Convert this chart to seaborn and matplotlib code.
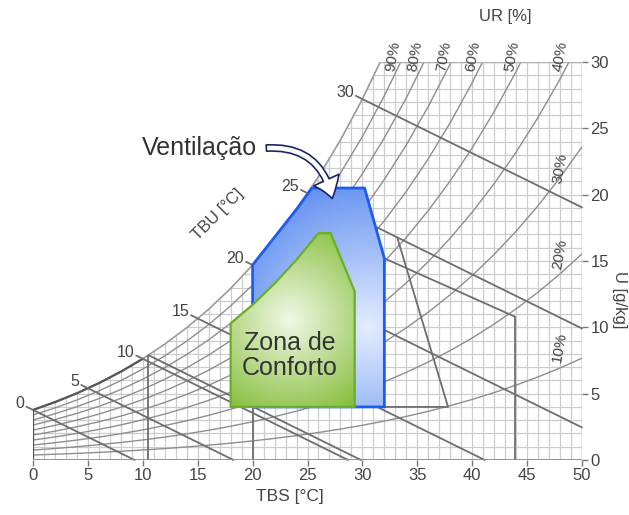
import numpy as np
import pandas as pd
import matplotlib.pyplot as plt
import seaborn as sns
from matplotlib.patches import Polygon, FancyArrowPatch
from matplotlib.colors import LinearSegmentedColormap

# saturation pressure table (kPa) per 2 °C of dry bulb
tbs = np.arange(0, 52, 2)
p_sat = np.array([0.611, 0.706, 0.813, 0.935, 1.073, 1.228, 1.403, 1.599, 1.818, 2.064,
                  2.339, 2.645, 2.985, 3.363, 3.782, 4.246, 4.759, 5.324, 5.947, 6.632,
                  7.384, 8.209, 9.112, 10.099, 11.177, 12.352])
p_atm = 101.325

ur_levels = [0.1, 0.2, 0.3, 0.4, 0.5, 0.6, 0.7, 0.8, 0.9]
tbu_levels = [0, 5, 10, 15, 20, 25, 30]
tbu_extra = [10.5]
x_ticks = [0, 5, 10, 15, 20, 25, 30, 35, 40, 45, 50]
y_ticks = [0, 5, 10, 15, 20, 25, 30]

# zones (TBS °C, U g/kg)
conforto = [(18, 4), (18, 10.3), (20, 11.7), (22, 13.3), (24, 15.1), (26, 17.1),
            (27.1, 17.1), (29.3, 12.7), (29.3, 4)]
ventilacao = [(20, 4), (20, 14.7), (22, 16.8), (24, 18.9), (25.4, 20.5),
              (30.2, 20.5), (32, 15.2), (32, 4)]
resfriamento = [(33.2, 16.7), (37.8, 4.0), (32, 4.0)]
massa_termica = [(32, 15.2), (43.9, 10.8), (43.9, 0)]
vert_lines = [10.5, 20]

ur_top_labels = ['90%', '80%', '70%', '60%', '50%', '40%']
ur_top_x = [32.8, 34.8, 37.4, 40.1, 43.6, 48.0]
ur_side_labels = ['30%', '20%', '10%']
ur_side_y = [22.0, 15.5, 8.5]

sns.set_theme(style='white')
plt.rcParams['font.family'] = ['Liberation Sans', 'DejaVu Sans']

PX_X, PX_Y = 10.98, 13.25  # pixels per unit, used for gradients

w_sat = 622 * p_sat / (p_atm - p_sat)

fig = plt.figure(figsize=(6.29, 5.15), dpi=100)
ax = fig.add_axes([33 / 629, 55 / 515, 549 / 629, 398 / 515])
ax.set_xlim(0, 50)
ax.set_ylim(0, 30)
for s in ax.spines.values():
    s.set_visible(False)

# grid below saturation
grid_c = '#cdcdcd'
tg = np.arange(0, 51)
ax.vlines(tg, 0, np.minimum(np.interp(tg, tbs, w_sat), 30), color=grid_c, lw=0.9, zorder=1)
wg = np.arange(1, 31)
ax.hlines(wg, np.interp(wg, w_sat, tbs), 50, color=grid_c, lw=0.9, zorder=1)

# relative humidity curves
rows = []
for ur in ur_levels:
    pv = ur * p_sat
    for t, w in zip(tbs, 622 * pv / (p_atm - pv)):
        rows.append({'ur': ur, 'tbs': t, 'u': w})
df_ur = pd.DataFrame(rows)
sns.lineplot(data=df_ur, x='tbs', y='u', units='ur', estimator=None, sort=False,
             color='#8e8e8e', lw=1.0, ax=ax, zorder=2)

# saturation curve
ax.plot(tbs, w_sat, color='#9a9a9a', lw=1.2, zorder=2)
m = tbs <= 10
ax.plot(tbs[m], w_sat[m], color='#555555', lw=1.6, zorder=2)

# wet bulb lines
k = 2.45
rows = []
for tw in tbu_levels + tbu_extra:
    ws = np.interp(tw, tbs, w_sat)
    t0 = tw - 0.6 if tw in tbu_levels else tw
    t1 = min(tw + k * ws, 50)
    rows.append({'tbu': tw, 'tbs': t0, 'u': ws + (tw - t0) / k})
    rows.append({'tbu': tw, 'tbs': t1, 'u': ws - (t1 - tw) / k})
df_tbu = pd.DataFrame(rows)
sns.lineplot(data=df_tbu, x='tbs', y='u', units='tbu', estimator=None, sort=False,
             color='#6e6e6e', lw=1.3, ax=ax, zorder=3, clip_on=False)
for tw in tbu_levels:
    ws = np.interp(tw, tbs, w_sat)
    ax.annotate(str(tw), xy=(tw - 0.6, ws + 0.6 / k), xytext=(-2, -4), textcoords='offset pixels',
                ha='right', va='bottom', fontsize=11.5, color='#444444', annotation_clip=False)

# other lines
ax.vlines(vert_lines, 0, np.interp(vert_lines, tbs, w_sat), color='#6e6e6e', lw=1.3, zorder=3)
ax.plot(*zip(*resfriamento), color='#6e6e6e', lw=1.3, zorder=3)
ax.plot(*zip(*massa_termica), color='#6e6e6e', lw=1.3, zorder=3)
ax.plot([0, 0], [0, w_sat[0]], color='#555555', lw=1.6, zorder=3)
ax.plot([0, 50], [0, 0], color='#8a8a8a', lw=1.3, zorder=3)
ax.plot([50, 50], [0, 30], color='#a0a0a0', lw=1.0, zorder=3)
ax.plot([np.interp(30, w_sat, tbs), 50], [30, 30], color='#b0b0b0', lw=1.0, zorder=3)


def gradient_zone(verts, c_in, c_out, center, radius, edge, lw, z):
    poly = Polygon(verts, closed=True, fc='none', ec=edge, lw=lw, zorder=z + 0.5,
                   joinstyle='round')
    ax.add_patch(poly)
    xs = np.linspace(0, 50, 400)
    ys = np.linspace(0, 30, 300)
    X, Y = np.meshgrid(xs, ys)
    d = np.hypot((X - center[0]) * PX_X, (Y - center[1]) * PX_Y) / radius
    cmap = LinearSegmentedColormap.from_list('g', [c_in, c_out])
    im = ax.imshow(np.clip(d, 0, 1), extent=(0, 50, 0, 30), origin='lower', cmap=cmap,
                   vmin=0, vmax=1, aspect='auto', zorder=z, interpolation='bilinear')
    im.set_clip_path(poly)


gradient_zone(ventilacao, '#e4edff', '#4a7fee', (30.5, 10.0), 180, '#1d5cf2', 2.0, 5)
gradient_zone(conforto, '#f1f8e6', '#7dba2f', (23.4, 10.6), 115, '#6cae27', 1.6, 7)
ax.set_xlim(0, 50)
ax.set_ylim(0, 30)

ax.text(23.4, 7.9, 'Zona de\nConforto', ha='center', va='center', fontsize=18,
        color='#333333', linespacing=1.05, zorder=9)
ax.text(20.4, 23.55, 'Ventilação', ha='right', va='center', fontsize=18,
        color='#333333', zorder=9)
arrow = FancyArrowPatch((21.0, 23.5), (27.3, 19.5),
                        connectionstyle='arc3,rad=-0.45',
                        arrowstyle='simple,head_length=14,head_width=20,tail_width=4.5',
                        fc='white', ec='#1b2466', lw=1.2, zorder=10, mutation_scale=1)
ax.add_patch(arrow)

# RH labels
for lab, x in zip(ur_top_labels, ur_top_x):
    ax.text(x, 30.4, lab, rotation=80, ha='center', va='center', fontsize=11,
            color='#444444', clip_on=False, zorder=9)
for lab, y in zip(ur_side_labels, ur_side_y):
    ax.text(48.0, y, lab, rotation=80, ha='center', va='center', fontsize=11,
            color='#444444', zorder=9)

# axes text
ax.text(16.8, 18.5, 'TBU [°C]', rotation=45, ha='center', va='center', fontsize=12,
        color='#444444')
ax.text(23.4, -2.75, 'TBS [°C]', ha='center', va='center', fontsize=12.5,
        color='#444444', clip_on=False)
ax.text(43.0, 33.4, 'UR [%]', ha='center', va='center', fontsize=12,
        color='#444444', clip_on=False)
fig.text(627 / 629, 215 / 515, 'U [g/kg]', rotation=-90, ha='right', va='center',
         fontsize=12, color='#444444')

ax.set_xticks(x_ticks)
ax.set_yticks(y_ticks)
ax.yaxis.tick_right()
ax.tick_params(axis='both', direction='out', length=4, width=1, color='#777777',
               labelsize=12, labelcolor='#444444', pad=2)
ax.tick_params(axis='x', bottom=True)
ax.tick_params(axis='y', right=True, left=False)
ax.set_xlabel('')
ax.set_ylabel('')
ax.grid(False)

fig.savefig('out.png', dpi=100)
